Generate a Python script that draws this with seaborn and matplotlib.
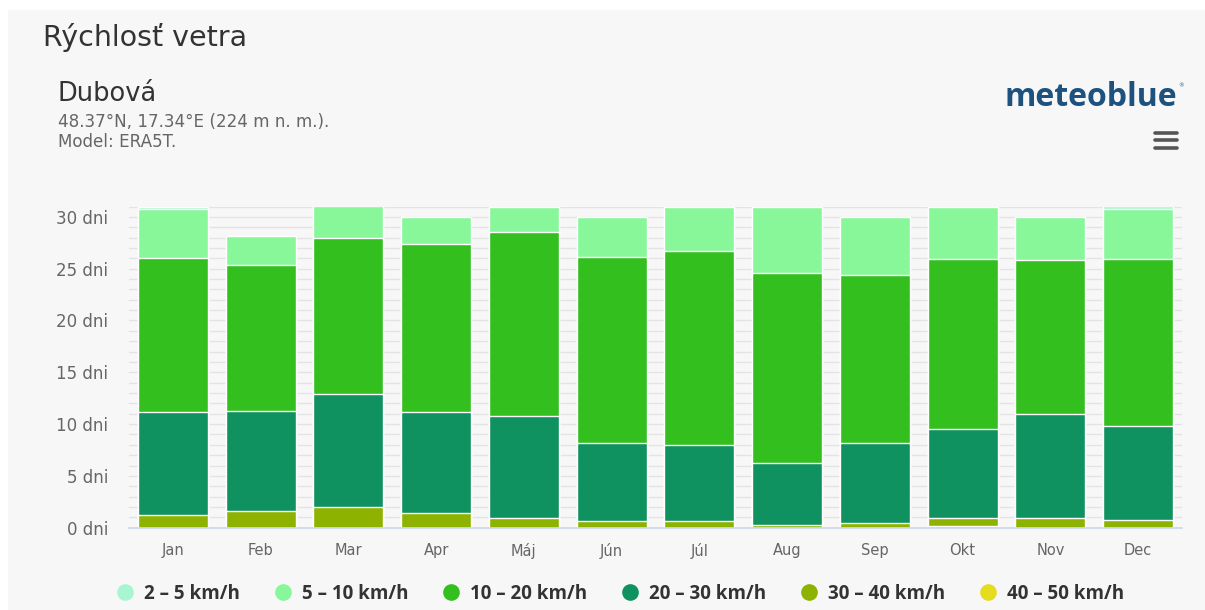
import matplotlib
matplotlib.use("Agg")
import matplotlib.pyplot as plt
import seaborn as sns
import numpy as np
import pandas as pd
from matplotlib.patches import Rectangle
from matplotlib.lines import Line2D

months = ["Jan", "Feb", "Mar", "Apr", "Máj", "Jún", "Júl", "Aug", "Sep", "Okt", "Nov", "Dec"]
series_names = ["2 – 5 km/h", "5 – 10 km/h", "10 – 20 km/h", "20 – 30 km/h", "30 – 40 km/h", "40 – 50 km/h"]
colors = ["#a9f5d2", "#88f79a", "#33bf1e", "#0f9160", "#8db300", "#e6dc1e"]

v_2_5   = [0.2, 0.0, 0.0, 0.0, 0.0, 0.0, 0.0, 0.0, 0.0, 0.0, 0.0, 0.2]
v_5_10  = [4.75, 2.8, 3.05, 2.6, 2.5, 3.85, 4.3, 6.45, 5.6, 5.1, 4.2, 4.9]
v_10_20 = [14.9, 14.1, 15.05, 16.25, 17.75, 18.0, 18.7, 18.3, 16.25, 16.35, 14.8, 16.1]
v_20_30 = [9.95, 9.7, 10.9, 9.7, 9.85, 7.55, 7.4, 6.0, 7.65, 8.65, 10.1, 9.05]
v_30_40 = [1.2, 1.6, 2.0, 1.45, 0.9, 0.6, 0.6, 0.25, 0.5, 0.75, 0.9, 0.75]
v_40_50 = [0.0, 0.0, 0.0, 0.0, 0.0, 0.0, 0.0, 0.0, 0.0, 0.15, 0.0, 0.0]

y_ticks = [0, 5, 10, 15, 20, 25, 30]

# stacking order from bottom: 40-50, 30-40, 20-30, 10-20, 5-10, 2-5
layers = [v_40_50, v_30_40, v_20_30, v_10_20, v_5_10, v_2_5]
layer_colors = colors[::-1]
cum = np.cumsum(np.array(layers), axis=0)

BG = "#f7f7f7"
fig = plt.figure(figsize=(12.05, 6.10), dpi=100)
fig.patch.set_facecolor("white")
fig.patches.append(Rectangle((8 / 1205, 0), 1 - 8 / 1205, 1 - 10 / 610,
                             transform=fig.transFigure, facecolor=BG, edgecolor="none", zorder=-10))

sns.set_style("white")
plt.rcParams["font.family"] = ["DejaVu Sans"]

ax = fig.add_axes([129 / 1205, 1 - 527.7 / 610, (1182 - 129) / 1205, (527.7 - 206.5) / 610])
ax.set_facecolor(BG)

# draw cumulative totals, tallest first so lower layers overlay
for i in range(len(layers) - 1, -1, -1):
    df = pd.DataFrame({"month": months, "value": cum[i]})
    sns.barplot(data=df, x="month", y="value", color=layer_colors[i], saturation=1,
                width=0.8, edgecolor="white", linewidth=1.0, ax=ax, zorder=3)

ax.set_ylim(0, 31)
ax.set_xlim(-0.5, 11.5)
ax.set_yticks(y_ticks)
ax.set_yticklabels([f"{t} dni" for t in y_ticks])
ax.set_yticks(np.arange(0, 32, 1), minor=True)
ax.grid(True, axis="y", which="both", color="#e3e3e3", linewidth=1.0, zorder=0)
ax.set_axisbelow(True)
ax.set_xlabel("")
ax.set_ylabel("")
for s in ["top", "right", "left"]:
    ax.spines[s].set_visible(False)
ax.spines["bottom"].set_color("#ccd6eb")
ax.spines["bottom"].set_linewidth(1.2)
ax.spines["bottom"].set_zorder(5)
ax.tick_params(axis="both", which="both", length=0)
ax.tick_params(axis="y", pad=15, labelsize=12, labelcolor="#666666")
ax.tick_params(axis="x", pad=11, labelsize=10.5, labelcolor="#666666")

# titles
fig.text(43 / 1205, 1 - 38 / 610, "Rýchlosť vetra", fontsize=20.5, color="#333333", va="center", ha="left")
fig.text(58 / 1205, 1 - 94 / 610, "Dubová", fontsize=18.5, color="#333333", va="center", ha="left")
fig.text(58 / 1205, 1 - 122 / 610, "48.37°N, 17.34°E (224 m n. m.).", fontsize=12.1, color="#666666", va="center", ha="left")
fig.text(58 / 1205, 1 - 142 / 610, "Model: ERA5T.", fontsize=12.1, color="#666666", va="center", ha="left")

# logo and menu icon
fig.text(1177 / 1205, 1 - 97 / 610, "meteoblue", fontsize=23, fontweight="bold", color="#1d527f",
         va="center", ha="right", family=["Open Sans", "DejaVu Sans"])
fig.text(1178 / 1205, 1 - 86 / 610, "®", fontsize=4, color="#1d527f", va="center", ha="left")
for yy in (132.7, 140.2, 147.7):
    fig.lines.append(Line2D([1155 / 1205, 1177 / 1205], [1 - yy / 610, 1 - yy / 610],
                            transform=fig.transFigure, color="#555555", linewidth=2.6,
                            solid_capstyle="round"))

# legend
handles = [Line2D([0], [0], marker="o", linestyle="none", markersize=12,
                  markerfacecolor=c, markeredgecolor="none") for c in colors]
leg = fig.legend(handles, series_names, loc="center", ncol=6, frameon=False,
                 bbox_to_anchor=(621 / 1205, 1 - 594 / 610), handletextpad=0.6, handlelength=0.8,
                 columnspacing=1.9, prop={"size": 13.5, "weight": "bold", "family": ["Open Sans", "DejaVu Sans"]})
for t in leg.get_texts():
    t.set_color("#333333")

fig.savefig("out.png", dpi=100, facecolor=fig.get_facecolor())
